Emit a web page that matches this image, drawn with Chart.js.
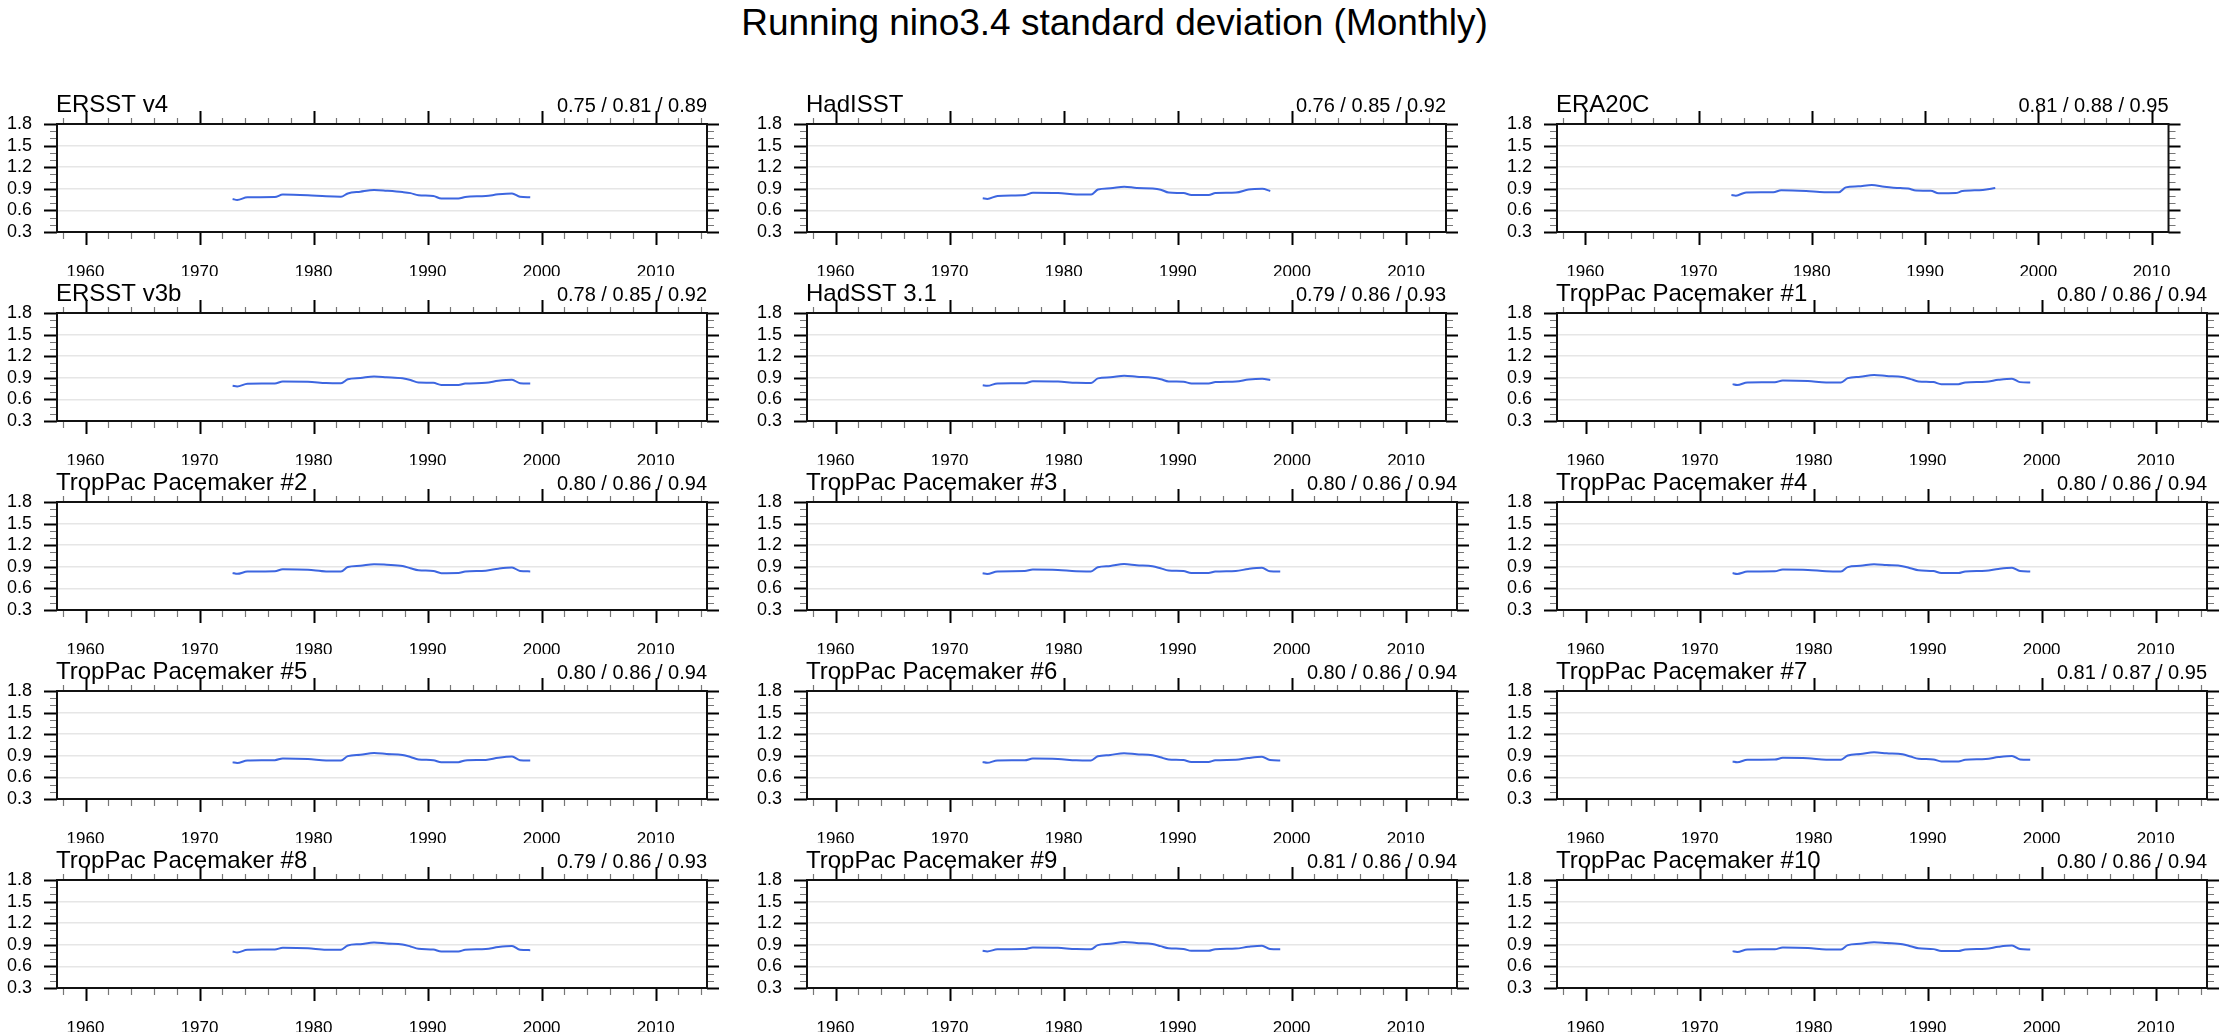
<!DOCTYPE html>
<html>
<head>
<meta charset="utf-8">
<script src="https://cdn.jsdelivr.net/npm/chart.js@4.4.1/dist/chart.umd.min.js"></script>
<style>
  body { margin: 0; background: #fff; width: 2229px; height: 1034px; position: relative; overflow: hidden; }
  #title { position: absolute; left: 0; top: 4px; width: 2229px; text-align: center;
           font: 37px "Liberation Sans", Arial, sans-serif; line-height: 38px; color: #000; }
  canvas { position: absolute; }
</style>
</head>
<body>
<div id="title">Running nino3.4 standard deviation (Monthly)</div>
<script>
// centre years of the running window (shared by every panel)
const years = [1972.9, 1973.3, 1974.2, 1976.6, 1977.3, 1979.5, 1981.1, 1982.4, 1983.0, 1984.1, 1985.3, 1986.4,
               1987.8, 1988.5, 1989.2, 1990.5, 1991.2, 1992.7, 1993.3, 1995.1, 1996.2, 1997.4, 1998.1, 1999.0];

const ersstV4  = [0.758, 0.745, 0.782, 0.785, 0.820, 0.810, 0.795, 0.790, 0.835, 0.860, 0.883, 0.873, 0.855, 0.840, 0.810, 0.800, 0.765, 0.765, 0.786, 0.800, 0.823, 0.835, 0.790, 0.782];
const hadisst  = [0.768, 0.760, 0.800, 0.814, 0.846, 0.842, 0.822, 0.820, 0.890, 0.907, 0.930, 0.912, 0.905, 0.888, 0.848, 0.840, 0.815, 0.815, 0.840, 0.848, 0.890, 0.900, 0.870, null];
const era20c   = [0.814, 0.805, 0.850, 0.853, 0.880, 0.870, 0.853, 0.853, 0.920, 0.935, 0.953, 0.930, 0.910, 0.905, 0.875, 0.874, 0.837, 0.840, 0.868, 0.885, 0.910, null, null, null];
const ersstV3b = [0.790, 0.780, 0.818, 0.822, 0.848, 0.845, 0.828, 0.825, 0.880, 0.898, 0.918, 0.908, 0.893, 0.870, 0.835, 0.830, 0.800, 0.800, 0.820, 0.830, 0.858, 0.872, 0.825, 0.820];
const hadsst31 = [0.798, 0.788, 0.822, 0.826, 0.852, 0.848, 0.830, 0.828, 0.892, 0.906, 0.928, 0.915, 0.900, 0.880, 0.850, 0.845, 0.822, 0.822, 0.842, 0.850, 0.876, 0.886, 0.868, null];
const pace1  = [0.812, 0.800, 0.835, 0.838, 0.862, 0.855, 0.836, 0.835, 0.895, 0.915, 0.938, 0.925, 0.910, 0.882, 0.850, 0.840, 0.812, 0.812, 0.835, 0.845, 0.872, 0.888, 0.840, 0.835];
const pace2  = [0.815, 0.802, 0.834, 0.838, 0.865, 0.858, 0.835, 0.834, 0.897, 0.915, 0.937, 0.928, 0.910, 0.880, 0.852, 0.842, 0.812, 0.814, 0.836, 0.846, 0.874, 0.890, 0.842, 0.836];
const pace3  = [0.810, 0.800, 0.836, 0.840, 0.862, 0.856, 0.838, 0.836, 0.894, 0.912, 0.939, 0.922, 0.908, 0.880, 0.848, 0.840, 0.815, 0.814, 0.834, 0.842, 0.870, 0.886, 0.838, 0.834];
const pace4  = [0.813, 0.801, 0.833, 0.837, 0.863, 0.857, 0.837, 0.833, 0.896, 0.913, 0.936, 0.924, 0.909, 0.881, 0.851, 0.841, 0.813, 0.813, 0.835, 0.844, 0.871, 0.887, 0.841, 0.835];
const pace5  = [0.811, 0.800, 0.834, 0.839, 0.864, 0.856, 0.836, 0.834, 0.895, 0.914, 0.938, 0.926, 0.911, 0.883, 0.849, 0.839, 0.811, 0.812, 0.836, 0.843, 0.873, 0.889, 0.839, 0.833];
const pace6  = [0.814, 0.802, 0.836, 0.838, 0.861, 0.855, 0.838, 0.835, 0.893, 0.912, 0.937, 0.923, 0.908, 0.879, 0.850, 0.841, 0.814, 0.815, 0.837, 0.845, 0.870, 0.887, 0.840, 0.836];
const pace7  = [0.822, 0.810, 0.845, 0.848, 0.872, 0.866, 0.846, 0.845, 0.905, 0.924, 0.948, 0.935, 0.920, 0.890, 0.860, 0.850, 0.822, 0.822, 0.845, 0.855, 0.882, 0.898, 0.850, 0.845];
const pace8  = [0.808, 0.794, 0.831, 0.835, 0.859, 0.852, 0.831, 0.831, 0.891, 0.909, 0.932, 0.919, 0.905, 0.877, 0.845, 0.835, 0.808, 0.808, 0.831, 0.840, 0.868, 0.882, 0.831, 0.826];
const pace9  = [0.818, 0.808, 0.838, 0.841, 0.864, 0.858, 0.840, 0.838, 0.896, 0.914, 0.938, 0.925, 0.910, 0.882, 0.852, 0.843, 0.816, 0.816, 0.838, 0.847, 0.872, 0.888, 0.842, 0.838];
const pace10 = [0.812, 0.801, 0.835, 0.838, 0.863, 0.856, 0.836, 0.834, 0.896, 0.914, 0.937, 0.926, 0.909, 0.881, 0.851, 0.840, 0.813, 0.813, 0.836, 0.845, 0.873, 0.889, 0.841, 0.834];

const panelTitles = ["ERSST v4", "HadISST", "ERA20C", "ERSST v3b", "HadSST 3.1", "TropPac Pacemaker #1",
  "TropPac Pacemaker #2", "TropPac Pacemaker #3", "TropPac Pacemaker #4", "TropPac Pacemaker #5",
  "TropPac Pacemaker #6", "TropPac Pacemaker #7", "TropPac Pacemaker #8", "TropPac Pacemaker #9", "TropPac Pacemaker #10"];
const panelStats = ["0.75 / 0.81 / 0.89", "0.76 / 0.85 / 0.92", "0.81 / 0.88 / 0.95", "0.78 / 0.85 / 0.92",
  "0.79 / 0.86 / 0.93", "0.80 / 0.86 / 0.94", "0.80 / 0.86 / 0.94", "0.80 / 0.86 / 0.94", "0.80 / 0.86 / 0.94",
  "0.80 / 0.86 / 0.94", "0.80 / 0.86 / 0.94", "0.81 / 0.87 / 0.95", "0.79 / 0.86 / 0.93", "0.81 / 0.86 / 0.94",
  "0.80 / 0.86 / 0.94"];
const panelSeries = [ersstV4, hadisst, era20c, ersstV3b, hadsst31, pace1, pace2, pace3, pace4, pace5, pace6, pace7, pace8, pace9, pace10];
const startYear = 1958;
const endYears = [2013, 2012, 2010, 2013, 2012, 2013, 2013, 2013, 2013, 2013, 2013, 2013, 2013, 2013, 2013];

const xTickLabels = [1960, 1970, 1980, 1990, 2000, 2010];
const yTickLabels = [0.3, 0.6, 0.9, 1.2, 1.5, 1.8];

// layout
const FONT = '"Liberation Sans", Arial, sans-serif';
const pxPerYear = 650 / 57;
const colLeft = [57, 807, 1557];
const rowTop = [124, 313, 502, 691, 880];
const plotH = 108, padTop = 60, axisH = 44, padRight = 20, axisW = 57;

// outer tick marks, frame, panel title and stats
const frame = {
  id: 'frame',
  afterDraw(chart, args, opts) {
    const ctx = chart.ctx, a = chart.chartArea, x = chart.scales.x, y = chart.scales.y;
    ctx.save();
    ctx.lineCap = 'butt';
    for (let v = 1958; v <= x.max; v += 2) {
      const px = Math.round(x.getPixelForValue(v)) + 0.5;
      const major = v % 10 === 0;
      ctx.strokeStyle = major ? '#000' : '#777';
      ctx.lineWidth = major ? 2 : 1.2;
      ctx.beginPath();
      ctx.moveTo(px, a.bottom); ctx.lineTo(px, a.bottom + (major ? 13 : 7));
      ctx.moveTo(px, a.top); ctx.lineTo(px, a.top - (major ? 13 : 6));
      ctx.stroke();
    }
    for (let i = 3; i <= 18; i++) {
      const py = Math.round(y.getPixelForValue(i / 10)) + 0.5;
      const major = i % 3 === 0;
      ctx.strokeStyle = major ? '#000' : '#777';
      ctx.lineWidth = major ? 2 : 1.2;
      ctx.beginPath();
      ctx.moveTo(a.left, py); ctx.lineTo(a.left - (major ? 13 : 7), py);
      ctx.moveTo(a.right, py); ctx.lineTo(a.right + (major ? 12 : 7), py);
      ctx.stroke();
    }
    ctx.strokeStyle = '#111';
    ctx.lineWidth = 2;
    ctx.strokeRect(a.left, a.top, a.right - a.left, a.bottom - a.top);

    ctx.fillStyle = '#000';
    ctx.textBaseline = 'alphabetic';
    ctx.font = '24px ' + FONT;
    ctx.textAlign = 'left';
    ctx.fillText(opts.title, a.left - 1, a.top - 12);
    ctx.font = '20px ' + FONT;
    ctx.textAlign = 'right';
    ctx.fillText(opts.stats, a.right, a.top - 12);
    ctx.restore();
  }
};

panelTitles.forEach((title, i) => {
  const row = Math.floor(i / 3), col = i % 3;
  const xMin = startYear - 0.5, xMax = endYears[i] + 1.5;
  const plotW = Math.round((xMax - xMin) * pxPerYear);
  const cv = document.createElement('canvas');
  cv.width = axisW + plotW + padRight;
  cv.height = padTop + plotH + axisH;
  cv.style.left = (colLeft[col] - axisW) + 'px';
  cv.style.top = (rowTop[row] - padTop) + 'px';
  document.body.appendChild(cv);

  const vals = panelSeries[i];
  new Chart(cv, {
    type: 'line',
    data: {
      datasets: [{
        data: years.map((yr, k) => ({ x: yr, y: vals[k] })),
        borderColor: '#3d66e0',
        borderWidth: 2,
        pointRadius: 0,
        cubicInterpolationMode: 'monotone',
        spanGaps: false
      }]
    },
    options: {
      responsive: false,
      animation: false,
      devicePixelRatio: 1,
      layout: { padding: { top: padTop, right: padRight, left: 0, bottom: 0 } },
      plugins: {
        legend: { display: false },
        tooltip: { enabled: false },
        frame: { title: title, stats: panelStats[i] }
      },
      scales: {
        x: {
          type: 'linear', min: xMin, max: xMax,
          afterBuildTicks: s => { s.ticks = xTickLabels.filter(v => v < xMax).map(v => ({ value: v })); },
          afterFit: s => { s.height = axisH; },
          grid: { display: false },
          border: { display: false },
          ticks: { font: { family: FONT, size: 17 }, color: '#000', padding: 22, maxRotation: 0, autoSkip: false,
                   callback: v => String(v) }
        },
        y: {
          min: 0.3, max: 1.8,
          afterBuildTicks: s => { s.ticks = yTickLabels.map(v => ({ value: v })); },
          afterFit: s => { s.width = axisW; },
          grid: {
            drawTicks: false,
            color: c => (c.tick && (c.tick.value < 0.31 || c.tick.value > 1.79)) ? 'rgba(0,0,0,0)' : '#e6e6e6',
            lineWidth: 1.5
          },
          border: { display: false },
          ticks: { font: { family: FONT, size: 18 }, color: '#000', padding: 25, autoSkip: false,
                   callback: v => v.toFixed(1) }
        }
      }
    },
    plugins: [frame]
  });
});
</script>
</body>
</html>
